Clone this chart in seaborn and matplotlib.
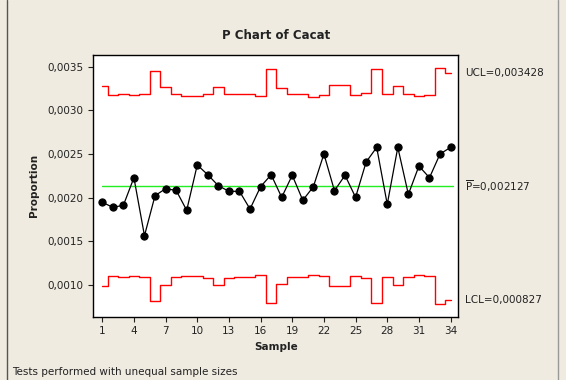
import numpy as np
import pandas as pd
import matplotlib
matplotlib.use("Agg")
import matplotlib.pyplot as plt
import seaborn as sns
from matplotlib.lines import Line2D

# data
samples = list(range(1, 35))
proportion = [
    0.001945, 0.001888, 0.001910, 0.002227, 0.001562, 0.002021, 0.002101,
    0.002082, 0.001853, 0.002373, 0.002261, 0.002135, 0.002071, 0.002071,
    0.001868, 0.002124, 0.002261, 0.002002, 0.002255, 0.001968, 0.002124,
    0.002499, 0.002078, 0.002255, 0.002002, 0.002407, 0.002575, 0.001922,
    0.002575, 0.002036, 0.002361, 0.002227, 0.002499, 0.002575,
]
ucl = [
    0.003282, 0.003172, 0.003183, 0.003172, 0.003183, 0.003447, 0.003271,
    0.003183, 0.003167, 0.003167, 0.003190, 0.003271, 0.003190, 0.003183,
    0.003183, 0.003160, 0.003470, 0.003259, 0.003183, 0.003183, 0.003156,
    0.003172, 0.003287, 0.003287, 0.003172, 0.003195, 0.003470, 0.003183,
    0.003275, 0.003183, 0.003160, 0.003172, 0.003482, 0.003428,
]
lcl = [
    0.000982, 0.001100, 0.001085, 0.001100, 0.001085, 0.000810, 0.000993,
    0.001085, 0.001100, 0.001100, 0.001073, 0.000993, 0.001073, 0.001085,
    0.001085, 0.001108, 0.000790, 0.001005, 0.001085, 0.001085, 0.001108,
    0.001097, 0.000982, 0.000982, 0.001097, 0.001080, 0.000790, 0.001085,
    0.000993, 0.001085, 0.001108, 0.001097, 0.000779, 0.000827,
]
p_bar = 0.002127
xticks = list(range(1, 35, 3))
yticks = [0.0010, 0.0015, 0.0020, 0.0025, 0.0030, 0.0035]

df = pd.DataFrame({"Sample": samples, "Proportion": proportion,
                   "UCL": ucl, "LCL": lcl})

sns.set_style("white")
plt.rcParams["font.family"] = ["DejaVu Sans"]
plt.rcParams["mathtext.fontset"] = "dejavusans"

bg = "#EFEBE1"
txt = "#222222"

fig = plt.figure(figsize=(5.66, 3.8), dpi=100, facecolor=bg)
ax = fig.add_axes([0.1648, 0.1666, 0.6449, 0.6895])
ax.set_facecolor("white")

# control limits as steps
sns.lineplot(data=df, x="Sample", y="UCL", ax=ax, color="#FF0000",
             linewidth=1.0, drawstyle="steps-mid", errorbar=None)
sns.lineplot(data=df, x="Sample", y="LCL", ax=ax, color="#FF0000",
             linewidth=1.0, drawstyle="steps-mid", errorbar=None)
ax.axhline(p_bar, xmin=0.025, xmax=0.985, color="#22EE22", linewidth=1.0)

# proportions
sns.lineplot(data=df, x="Sample", y="Proportion", ax=ax, color="black",
             linewidth=0.9, marker="o", markersize=5.2,
             markeredgecolor="black", errorbar=None)

ax.set_xlim(0.15, 34.73)
ax.set_ylim(0.000633, 0.003638)
ax.set_xticks(xticks)
ax.set_yticks(yticks)
ax.set_yticklabels([f"{v:.4f}".replace(".", ",") for v in yticks])
ax.tick_params(axis="both", direction="out", length=3.5, width=0.8,
               labelsize=7.5, colors=txt, left=True, bottom=True)
for s in ax.spines.values():
    s.set_color("black")
    s.set_linewidth(1.0)

ax.set_xlabel("Sample", fontsize=7.5, fontweight="bold", color=txt, labelpad=4)
ax.set_ylabel("Proportion", fontsize=7.5, fontweight="bold", color=txt,
              labelpad=6)
ax.set_title("P Chart of Cacat", fontsize=8.5, fontweight="bold", color=txt,
             pad=11)

# limit labels on the right
trans = ax.get_yaxis_transform()
ax.text(1.018, ucl[-1], "UCL=0,003428", transform=trans, fontsize=7.5,
        color=txt, va="center", ha="left", clip_on=False)
ax.text(1.018, p_bar, r"$\overline{\mathrm{P}}$=0,002127", transform=trans,
        fontsize=7.5, color=txt, va="center", ha="left", clip_on=False)
ax.text(1.018, lcl[-1], "LCL=0,000827", transform=trans, fontsize=7.5,
        color=txt, va="center", ha="left", clip_on=False)

fig.text(12 / 566, 1 - 372 / 380, "Tests performed with unequal sample sizes",
         fontsize=7.5, color=txt, va="center", ha="left")

# window frame lines
fig.add_artist(Line2D([7 / 566, 7 / 566], [0, 1], color="#555555",
                      linewidth=1.0))
fig.add_artist(Line2D([558 / 566, 558 / 566], [0, 1], color="#999999",
                      linewidth=1.0))

fig.savefig("out.png", dpi=100, facecolor=bg)
